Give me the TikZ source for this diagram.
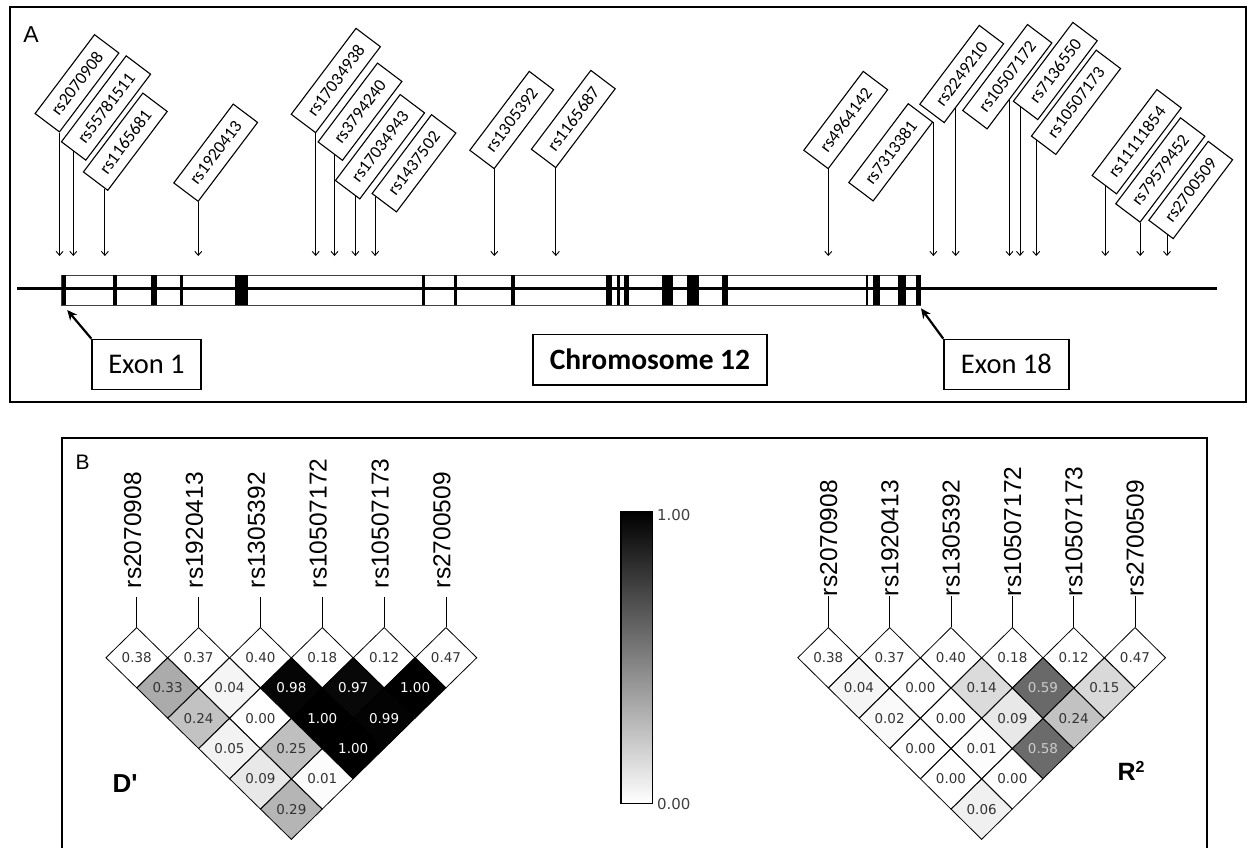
\documentclass[tikz,border=0pt]{standalone}
\usepackage{fontspec}
\setmainfont{Carlito}
\newfontfamily\arialf{Liberation Sans}
\newfontfamily\dvs{DejaVu Sans}
\usetikzlibrary{shapes.geometric,arrows.meta,calc}
\begin{document}
\begin{tikzpicture}[x=1pt,y=-1pt,
  panel/.style={line width=2pt},
  snp/.style={draw, line width=1.1pt, fill=white, rotate=53, font=\fontsize{17.5}{19}\selectfont, minimum height=30.5pt, inner xsep=12pt, inner ysep=0pt},
  snparr/.style={line width=0.9pt, -{Straight Barb[length=4pt,width=7pt]}},
  exon/.style={fill=black},
  lbox/.style={draw, line width=1.3pt, minimum height=50pt, inner sep=0pt, font=\fontsize{28.5}{30}\selectfont},
  exarr/.style={line width=2.2pt, -{Stealth[length=10pt,width=9pt]}},
  cell/.style={draw, line width=0.8pt, shape=diamond, minimum width=61.8pt, minimum height=60.6pt, inner sep=0pt, font=\dvs\fontsize{13.5}{14}\selectfont},
  rcell/.style={cell, minimum width=61.3pt},
  blab/.style={rotate=90, anchor=base west, inner sep=0pt, font=\arialf\fontsize{24.5}{26}\selectfont},
  lline/.style={line width=0.9pt},
  cbl/.style={anchor=west, inner sep=0pt, text=black!75, font=\dvs\fontsize{15}{16}\selectfont}
]
\useasboundingbox (0,0) rectangle (1251,847);
\clip (0,0) rectangle (1251,847);

% ---------------- Panel A ----------------
\draw[panel] (9.5,7) rectangle (1246,402);
\node[font=\arialf\fontsize{23}{25}\selectfont, inner sep=0pt] (lA) at (31,35) {A};

% gene structure
\draw[line width=1pt, black!75] (61.7,275) rectangle (920.7,305);
\draw[line width=3.3pt] (17.3,288.5) -- (1216.7,288.5);
\foreach \a/\b in {61.7/66, 113.3/117.3, 151/156.7, 180/182.7, 235/248.3,
                   421.7/425, 454/456.7, 510.7/515.3, 605.7/612.3, 617.3/620,
                   623.7/629, 662.3/673.3, 687.3/699, 721.7/727.7, 865.7/868.3,
                   872.7/880, 898.3/906, 916/920.7}
  \fill[exon] (\a,275) rectangle (\b,305);

% SNP labels
\node[snp] (a1)  at (77,83.3)     {rs2070908};
\node[snp] (a2)  at (106,108)     {rs55781511};
\node[snp] (a3)  at (125.3,141.7) {rs1165681};
\node[snp] (a4)  at (215.7,152.7) {rs1920413};
\node[snp] (a5)  at (335.8,80.5)  {rs17034938};
\node[snp] (a6)  at (360,111.7)   {rs3794240};
\node[snp] (a7)  at (380,146.7)   {rs17034943};
\node[snp] (a8)  at (414,163.3)   {rs1437502};
\node[snp] (a9)  at (511.7,120)   {rs1305392};
\node[snp] (a10) at (573.3,119)   {rs1165687};
\node[snp] (a11) at (845.7,120)   {rs4964142};
\node[snp] (a12) at (890.7,152.3) {rs7313381};
\node[snp] (a13) at (961.7,74)    {rs2249210};
\node[snp] (a14) at (1007.3,76.7) {rs10507172};
\node[snp] (a15) at (1055.3,71)   {rs7136550};
\node[snp] (a16) at (1076,102.3)  {rs10507173};
\node[snp] (a17) at (1136.7,141.7){rs11111854};
\node[snp] (a18) at (1160.3,170)  {rs79579452};
\node[snp] (a19) at (1190.7,190)  {rs2700509};

% attachment points
\coordinate (s1)  at (a1.south west);
\coordinate (s2)  at ($(a2.south west)!0.5!(a2.north west)$);
\coordinate (s3)  at ($(a3.south west)!0.12!(a3.north west)$);
\coordinate (s4)  at (a4.south west);
\coordinate (s5)  at (a5.south west);
\coordinate (s6)  at ($(a6.south west)!0.32!(a6.north west)$);
\coordinate (s7)  at ($(a7.south west)!0.18!(a7.north west)$);
\coordinate (s8)  at ($(a8.south west)!0.85!(a8.north west)$);
\coordinate (s9)  at (a9.south west);
\coordinate (s10) at (a10.south west);
\coordinate (s11) at (a11.south west);
\coordinate (s12) at (a12.south east);
\coordinate (s13) at ($(a13.south west)!0.19!(a13.south east)$);
\coordinate (s14) at ($(a14.south west)!0.34!(a14.south east)$);
\coordinate (s15) at ($(a15.south west)!0.71!(a15.north west)$);
\coordinate (s16) at ($(a16.south west)!0.78!(a16.north west)$);
\coordinate (s17) at ($(a17.south west)!0.45!(a17.north west)$);
\coordinate (s18) at (a18.south west);
\coordinate (s19) at ($(a19.south west)!0.25!(a19.north west)$);
\coordinate (tipy) at (0,256);
\foreach \k in {1,...,19} {
  \coordinate (t\k) at (s\k |- tipy);
  \draw[snparr] (s\k) -- (t\k);
}

% exon labels
\node[lbox, minimum width=109pt] (ex1) at (146.5,364.3) {Exon 1};
\node[lbox, minimum width=125pt] (ex18) at (1006.4,364.3) {Exon 18};
\node[lbox, minimum width=234pt, minimum height=50.7pt, font=\bfseries\fontsize{29.5}{31}\selectfont] (chr) at (650,359.7) {Chromosome 12};
\coordinate (e1t) at (67.2,310);
\coordinate (e18t) at (921,308.3);
\draw[exarr] (ex1.north west) -- (e1t);
\draw[exarr] (ex18.north west) -- (e18t);

% ---------------- Panel B ----------------
\draw[panel] (62,852) -- (62,438.3) -- (1206.7,438.3) -- (1206.7,852);
\node[font=\arialf\fontsize{21}{23}\selectfont, inner sep=0pt] (lB) at (82.7,462.5) {B};

% D' plot
\foreach \i/\v in {1/0.38,2/0.37,3/0.40,4/0.18,5/0.12,6/0.47}
  \node[cell, fill=white, text=black!80] (d\i\i) at ({136.7+61.86*(\i-1)},657.7) {\v};
\foreach \i/\j/\v/\f/\c in {1/2/0.33/33/black!80, 2/3/0.04/4/black!80, 3/4/0.98/98/white,
    4/5/0.97/97/white, 5/6/1.00/100/white,
    1/3/0.24/24/black!80, 2/4/0.00/0/black!80, 3/5/1.00/100/white, 4/6/0.99/99/white,
    1/4/0.05/5/black!80, 2/5/0.25/25/black!80, 3/6/1.00/100/white,
    1/5/0.09/9/black!80, 2/6/0.01/1/black!80,
    1/6/0.29/29/black!80}
  \node[cell, fill=black!\f, text=\c] (d\i\j) at ({136.7+61.86*(\i+\j-2)/2},{657.7+30.3*(\j-\i)}) {\v};

% R2 plot
\foreach \i/\v in {1/0.38,2/0.37,3/0.40,4/0.18,5/0.12,6/0.47}
  \node[rcell, fill=white, text=black!80] (r\i\i) at ({828.3+61.34*(\i-1)},657.7) {\v};
\foreach \i/\j/\v/\f/\c in {1/2/0.04/4/black!80, 2/3/0.00/0/black!80, 3/4/0.14/14/black!80,
    4/5/0.59/59/black!20, 5/6/0.15/15/black!80,
    1/3/0.02/2/black!80, 2/4/0.00/0/black!80, 3/5/0.09/9/black!80, 4/6/0.24/24/black!80,
    1/4/0.00/0/black!80, 2/5/0.01/1/black!80, 3/6/0.58/58/black!20,
    1/5/0.00/0/black!80, 2/6/0.00/0/black!80,
    1/6/0.06/6/black!80}
  \node[rcell, fill=black!\f, text=\c] (r\i\j) at ({828.3+61.34*(\i+\j-2)/2},{657.7+30.3*(\j-\i)}) {\v};

% SNP labels and leader lines
\foreach \i/\t in {1/rs2070908,2/rs1920413,3/rs1305392,4/rs10507172,5/rs10507173,6/rs2700509} {
  \node[blab] (dl\i) at ({141.1+61.86*(\i-1)},588.3) {\t};
  \node[blab] (rl\i) at ({837.0+61.34*(\i-1)},596.2) {\t};
  \draw[lline, shorten <=8.5pt] (dl\i.west -| d\i\i.north) -- (d\i\i.north);
  \draw[lline] (rl\i.west -| r\i\i.north) -- (r\i\i.north);
}

\node[font=\arialf\bfseries\fontsize{26}{28}\selectfont, inner sep=0pt] (dp) at (125,784) {D\XeTeXglyph\XeTeXcharglyph"27};
\node[font=\arialf\bfseries\fontsize{25}{27}\selectfont, inner sep=0pt] (r2) at (1131,771) {R\raisebox{8pt}{\fontsize{16}{16}\selectfont 2}};

% colour bar
\node[draw, line width=1.3pt, top color=black, bottom color=white, minimum width=31.7pt, minimum height=291.3pt, inner sep=0pt] (cbar) at (636.9,657.5) {};
\node[cbl] (c1) at ($(cbar.north east)+(3.5,3.5)$) {1.00};
\node[cbl] (c0) at ($(cbar.south east)+(3.5,0.5)$) {0.00};
\end{tikzpicture}
\end{document}
